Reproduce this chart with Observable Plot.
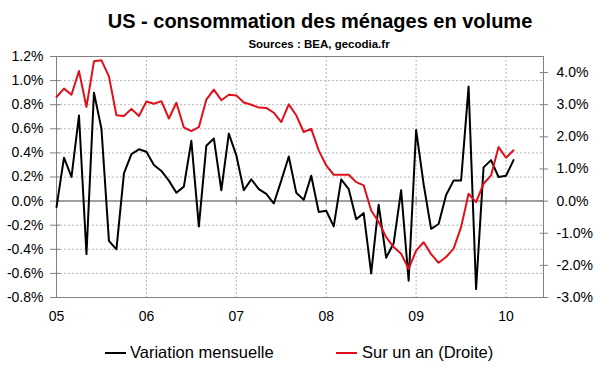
<!DOCTYPE html>
<html><head><meta charset="utf-8">
<script src="https://cdn.jsdelivr.net/npm/d3@7"></script>
<script src="https://cdn.jsdelivr.net/npm/@observablehq/plot@0.6"></script>
<style>
body{margin:0;background:#fff;font-family:"Liberation Sans",Arial,sans-serif;}
#wrap{position:relative;width:600px;height:372px;overflow:hidden;background:#fff}
#title{position:absolute;left:20px;width:600px;top:9px;text-align:center;font-weight:bold;font-size:20px;line-height:24px;color:#000}
#sub{position:absolute;left:19px;width:600px;top:37px;text-align:center;font-weight:bold;font-size:11.5px;line-height:14px;color:#000}
#chart{position:absolute;left:0;top:48px}
.leg{position:absolute;top:342px;font-size:16.5px;line-height:20px;color:#000;white-space:nowrap}
.sw{position:absolute;top:352px;height:2px;width:21px}
</style></head>
<body><div id="wrap">
<div id="title">US - consommation des ménages en volume</div>
<div id="sub">Sources : BEA, gecodia.fr</div>
<div id="chart"></div>
<div class="sw" style="left:105px;background:#000"></div>
<div class="leg" style="left:130px">Variation mensuelle</div>
<div class="sw" style="left:336px;background:#e0101b"></div>
<div class="leg" style="left:362px">Sur un an (Droite)</div>
</div>
<script>
// Monthly data, Jan 2005 .. Feb 2010
const monthly = [-0.05,0.36,0.20,0.71,-0.44,0.90,0.60,-0.33,-0.40,0.23,0.39,0.43,
  0.41,0.30,0.25,0.17,0.07,0.12,0.50,-0.21,0.46,0.52,0.09,0.56,
  0.38,0.09,0.18,0.10,0.06,-0.02,0.17,0.37,0.07,0.01,0.21,-0.09,
  -0.08,-0.21,0.18,0.10,-0.15,-0.10,-0.60,-0.03,-0.47,-0.35,0.09,-0.66,
  0.59,0.14,-0.23,-0.19,0.05,0.17,0.17,0.95,-0.73,0.28,0.34,0.20,
  0.21,0.34];
const yearly = [3.24,3.50,3.31,4.05,2.93,4.35,4.38,3.88,2.67,2.65,2.87,2.65,
  3.10,3.03,3.11,2.57,3.06,2.29,2.18,2.30,3.16,3.47,3.14,3.31,
  3.29,3.07,3.00,2.91,2.90,2.75,2.46,3.01,2.67,2.15,2.25,1.58,
  1.11,0.82,0.82,0.82,0.59,0.49,-0.29,-0.65,-1.12,-1.43,-1.64,-2.11,
  -1.54,-1.28,-1.65,-1.92,-1.74,-1.48,-0.81,0.23,-0.03,0.54,0.80,1.68,
  1.35,1.58];
const yearLabels = ["05","06","07","08","09","10"];
const leftTicks = [-0.8,-0.6,-0.4,-0.2,0,0.2,0.4,0.6,0.8,1.0,1.2];
const rightTicks = [-3,-2,-1,0,1,2,3,4];

const ratio = 3.75; // right axis span / left axis span
const xMax = 65;
const yearTicks = yearLabels.map((d,i)=>i*12);
const rowsM = monthly.map((v,i)=>({i, v}));
const rowsY = yearly.map((v,i)=>({i, v: v/ratio}));
const rightScaled = rightTicks.map(d=>d/ratio);
const fmt = d => d.toFixed(1) + "%";
const axisStroke = "#808080";

const chart = Plot.plot({
  width:600, height:285,
  marginTop:8, marginBottom:36, marginLeft:56, marginRight:57,
  x:{domain:[0,xMax], axis:null},
  y:{domain:[-0.8,1.2], axis:null},
  style:{fontFamily:'"Liberation Sans", Arial, sans-serif', fontSize:"14px", color:"#000", background:"transparent", overflow:"visible"},
  marks:[
    Plot.gridY(leftTicks.slice(1,-1).filter(d=>d!==0), {stroke:"#b8b8b8", strokeOpacity:1, strokeDasharray:"2,2"}),
    Plot.gridX(yearTicks.slice(1), {stroke:"#b8b8b8", strokeOpacity:1, strokeDasharray:"2,2"}),
    Plot.ruleY([0], {stroke:axisStroke, strokeWidth:1.5}),
    Plot.ruleX(yearTicks.slice(1), {x:d=>d, y1:-0.03, y2:0.03, stroke:axisStroke}),
    Plot.frame({stroke:axisStroke}),
    // inner halves of the crossing tick marks
    Plot.ruleY(leftTicks, {y:d=>d, x1:0, x2:0.55, stroke:axisStroke}),
    Plot.ruleY(rightScaled, {y:d=>d, x1:xMax-0.45, x2:xMax, stroke:axisStroke}),
    Plot.axisY(leftTicks, {anchor:"left", label:null, tickFormat:fmt, tickSize:6, tickPadding:7, stroke:axisStroke, fill:"#000"}),
    Plot.axisY(rightScaled, {anchor:"right", label:null, tickFormat:d=>fmt(Math.round(d*ratio)), tickSize:4, tickPadding:9, stroke:axisStroke, fill:"#000"}),
    Plot.axisX(yearTicks, {anchor:"bottom", label:null, tickFormat:(d,k)=>yearLabels[k], tickSize:0, tickPadding:14, fill:"#000"}),
    Plot.lineY(rowsM, {x:"i", y:"v", stroke:"#000", strokeWidth:2}),
    Plot.lineY(rowsY, {x:"i", y:"v", stroke:"#e0101b", strokeWidth:2})
  ]
});
document.getElementById("chart").appendChild(chart);
</script>
</body></html>
